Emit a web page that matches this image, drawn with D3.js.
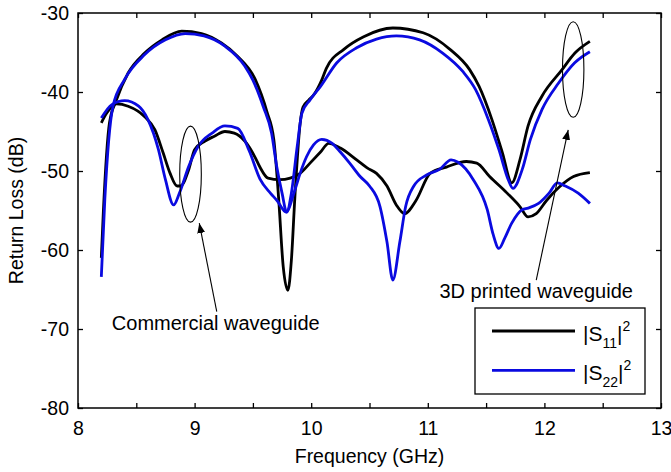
<!DOCTYPE html>
<html>
<head>
<meta charset="utf-8">
<script src="https://cdnjs.cloudflare.com/ajax/libs/d3/7.8.5/d3.min.js"></script>
<style>
  body { margin: 0; background: #fff; }
  svg { display: block; font-family: "Liberation Sans", Arial, sans-serif; }
</style>
</head>
<body>
<div id="chart"></div>
<script>
var w = 671, h = 472;
var margin = {top: 13, right: 10, bottom: 64, left: 78};

// 3D printed waveguide, |S11|^2 (black)
var printedS11Freq = [8.20, 8.217, 8.27, 8.33, 8.43, 8.57, 8.72, 8.89, 9.06, 9.23, 9.37, 9.52, 9.62, 9.68, 9.72, 9.76, 9.80, 9.83, 9.86, 9.905, 9.93, 9.98, 10.02, 10.09, 10.13, 10.28, 10.45, 10.70, 10.96, 11.19, 11.36, 11.44, 11.55, 11.64, 11.72, 11.79, 11.86, 11.98, 12.15, 12.26, 12.39];
var printedS11Loss = [-61.0, -55.3, -43.9, -41.0, -37.6, -35.1, -33.4, -32.3, -32.6, -33.8, -35.5, -38.4, -42.5, -46.1, -53.3, -62.1, -65.1, -61.3, -53.3, -44.0, -41.9, -41.0, -40.4, -38.5, -37.0, -34.6, -33.0, -31.9, -32.5, -34.6, -37.2, -39.3, -43.5, -47.7, -51.5, -48.6, -44.3, -40.5, -37.2, -35.1, -33.6];

// 3D printed waveguide, |S22|^2 (blue)
var printedS22Freq = [8.20, 8.23, 8.30, 8.40, 8.57, 8.75, 8.92, 9.08, 9.26, 9.43, 9.50, 9.59, 9.66, 9.705, 9.75, 9.79, 9.83, 9.88, 9.92, 9.99, 10.08, 10.22, 10.39, 10.56, 10.73, 10.93, 11.13, 11.30, 11.41, 11.52, 11.61, 11.69, 11.73, 11.81, 11.88, 11.98, 12.12, 12.26, 12.39];
var printedS22Loss = [-63.4, -53.6, -41.8, -38.4, -35.3, -33.4, -32.6, -32.9, -34.2, -36.7, -38.5, -41.9, -45.2, -49.5, -52.8, -55.2, -52.8, -46.9, -42.7, -41.0, -39.3, -36.3, -34.4, -33.3, -32.9, -33.4, -35.1, -37.4, -39.7, -43.5, -47.3, -51.1, -52.2, -49.8, -46.0, -42.2, -38.9, -36.3, -34.9];

// commercial waveguide, |S11|^2 (black)
var commS11Freq = [8.20, 8.245, 8.33, 8.43, 8.57, 8.66, 8.73, 8.79, 8.85, 8.88, 8.95, 9.00, 9.09, 9.17, 9.26, 9.34, 9.43, 9.52, 9.56, 9.63, 9.73, 9.82, 9.905, 9.99, 10.08, 10.15, 10.25, 10.39, 10.48, 10.56, 10.65, 10.73, 10.80, 10.90, 11.02, 11.16, 11.33, 11.42, 11.53, 11.68, 11.79, 11.86, 11.93, 12.02, 12.13, 12.25, 12.39];
var commS11Loss = [-43.9, -42.7, -41.5, -41.8, -43.1, -44.8, -47.7, -50.3, -51.9, -51.9, -49.8, -47.3, -46.2, -45.6, -45.0, -45.2, -46.2, -48.3, -49.5, -50.9, -51.1, -50.9, -50.3, -49.0, -47.6, -46.5, -47.1, -48.6, -49.6, -50.3, -51.9, -54.3, -55.4, -53.7, -50.3, -49.5, -48.8, -49.0, -50.7, -52.8, -54.5, -55.8, -55.4, -53.7, -52.0, -50.7, -50.2];

// commercial waveguide, |S22|^2 (blue)
var commS22Freq = [8.20, 8.29, 8.40, 8.52, 8.60, 8.69, 8.75, 8.82, 8.87, 8.95, 9.03, 9.15, 9.26, 9.37, 9.47, 9.56, 9.65, 9.705, 9.785, 9.86, 9.905, 9.96, 10.02, 10.09, 10.18, 10.25, 10.33, 10.42, 10.50, 10.59, 10.65, 10.70, 10.76, 10.81, 10.88, 10.99, 11.10, 11.20, 11.26, 11.39, 11.51, 11.56, 11.61, 11.66, 11.72, 11.81, 11.86, 11.95, 12.04, 12.11, 12.18, 12.29, 12.39];
var commS22Loss = [-43.3, -41.6, -41.1, -41.8, -43.5, -47.3, -51.1, -54.3, -52.8, -49.4, -46.9, -45.2, -44.3, -44.6, -47.5, -51.0, -52.8, -53.7, -55.2, -52.4, -50.3, -48.2, -46.7, -46.0, -46.5, -47.6, -49.0, -50.7, -51.9, -54.5, -59.0, -63.8, -59.0, -54.5, -51.9, -50.5, -49.8, -48.6, -48.9, -51.1, -54.9, -58.0, -59.8, -58.5, -56.6, -54.9, -54.7, -54.1, -52.8, -51.5, -51.9, -52.8, -54.1];

var xTicks = [8, 8.5, 9, 9.5, 10, 10.5, 11, 11.5, 12, 12.5, 13];
var xLabels = [8, 9, 10, 11, 12, 13];
var yTicks = [-80, -70, -60, -50, -40, -30];

var black = "#000", blue = "#0a0ae0";

function zip(fs, vs) {
  return fs.map(function(f, i) { return {f: f, v: vs[i]}; });
}

var series = [
  {data: zip(printedS11Freq, printedS11Loss), color: black},
  {data: zip(commS11Freq, commS11Loss), color: black},
  {data: zip(printedS22Freq, printedS22Loss), color: blue},
  {data: zip(commS22Freq, commS22Loss), color: blue}
];

var x = d3.scaleLinear().domain([8, 13]).range([margin.left, w - margin.right]);
var y = d3.scaleLinear().domain([-80, -30]).range([h - margin.bottom, margin.top]);

var svg = d3.select("#chart").append("svg")
  .attr("width", w)
  .attr("height", h);

svg.append("defs").append("marker")
  .attr("id", "head")
  .attr("viewBox", "0 0 10 8")
  .attr("refX", 10).attr("refY", 4)
  .attr("markerWidth", 10).attr("markerHeight", 8)
  .attr("markerUnits", "userSpaceOnUse")
  .attr("orient", "auto")
  .append("path").attr("d", "M0,0 L10,4 L0,8 Z").attr("fill", "#000");

var line = d3.line()
  .x(function(d) { return x(d.f); })
  .y(function(d) { return y(d.v); })
  .curve(d3.curveMonotoneX);

svg.selectAll(".curve")
  .data(series)
  .enter().append("path")
  .attr("class", "curve")
  .attr("d", function(d) { return line(d.data); })
  .attr("fill", "none")
  .attr("stroke", function(d) { return d.color; })
  .attr("stroke-width", 2.8)
  .attr("stroke-linejoin", "round");

// axes, ticks inward on all four sides
var tickLen = 5;
var bottomAxis = d3.axisBottom(x).tickValues(xTicks).tickSizeInner(-tickLen).tickSizeOuter(0)
  .tickFormat(function(d) { return xLabels.indexOf(d) >= 0 ? d : ""; });
var topAxis = d3.axisTop(x).tickValues(xTicks).tickSizeInner(-tickLen).tickSizeOuter(0).tickFormat("");
var leftAxis = d3.axisLeft(y).tickValues(yTicks).tickSizeInner(-tickLen).tickSizeOuter(0)
  .tickFormat(function(d) { return String(d); });
var rightAxis = d3.axisRight(y).tickValues(yTicks).tickSizeInner(-tickLen).tickSizeOuter(0).tickFormat("");

function styleAxis(g) {
  g.select(".domain").remove();
  g.selectAll("line").attr("stroke", "#000").attr("stroke-width", 1.3);
  g.selectAll("text").attr("fill", "#000").style("font-size", "19.5px")
    .style("font-family", "Liberation Sans, Arial, sans-serif");
}

svg.append("g").attr("transform", "translate(0," + y(-80) + ")").call(bottomAxis).call(styleAxis)
  .selectAll("text").attr("dy", "0.71em").attr("y", 13);
svg.append("g").attr("transform", "translate(0," + y(-30) + ")").call(topAxis).call(styleAxis);
svg.append("g").attr("transform", "translate(" + x(8) + ",0)").call(leftAxis).call(styleAxis)
  .selectAll("text").attr("x", -9);
svg.append("g").attr("transform", "translate(" + x(13) + ",0)").call(rightAxis).call(styleAxis);

svg.append("rect")
  .attr("x", x(8)).attr("y", y(-30))
  .attr("width", x(13) - x(8)).attr("height", y(-80) - y(-30))
  .attr("fill", "none").attr("stroke", "#000").attr("stroke-width", 1.5);

// axis titles
svg.append("text")
  .attr("x", (x(8) + x(13)) / 2).attr("y", 463)
  .attr("text-anchor", "middle").style("font-size", "19.5px")
  .text("Frequency (GHz)");
svg.append("text")
  .attr("transform", "translate(23," + y(-55) + ") rotate(-90)")
  .attr("text-anchor", "middle").style("font-size", "19.5px")
  .text("Return Loss (dB)");

// annotations
function ellipse(cf, cv, rx, ry) {
  svg.append("ellipse")
    .attr("cx", x(cf)).attr("cy", y(cv))
    .attr("rx", rx).attr("ry", ry)
    .attr("fill", "none").attr("stroke", "#000").attr("stroke-width", 1.1);
}
function arrow(f0, v0, f1, v1) {
  svg.append("line")
    .attr("x1", x(f0)).attr("y1", y(v0))
    .attr("x2", x(f1)).attr("y2", y(v1))
    .attr("stroke", "#000").attr("stroke-width", 1.1)
    .attr("marker-end", "url(#head)");
}
ellipse(8.965, -50.4, 10.8, 48);
arrow(9.19, -67.8, 9.04, -56.6);
svg.append("text").attr("x", x(8.29)).attr("y", y(-70.1))
  .style("font-size", "20px").text("Commercial waveguide");

ellipse(12.247, -37.15, 10.7, 47.8);
arrow(11.93, -63.8, 12.204, -44.8);
svg.append("text").attr("x", x(11.1)).attr("y", y(-66.1))
  .style("font-size", "20px").text("3D printed waveguide");

// legend
var legend = svg.append("g");
legend.append("rect")
  .attr("x", 475).attr("y", 308).attr("width", 170).attr("height", 86)
  .attr("fill", "#fff").attr("stroke", "#000").attr("stroke-width", 1.3);

var legendItems = [{sub: "11", color: black}, {sub: "22", color: blue}];
legendItems.forEach(function(d, i) {
  var ly = 331 + i * 39.3;
  legend.append("line")
    .attr("x1", 492).attr("x2", 575).attr("y1", ly).attr("y2", ly)
    .attr("stroke", d.color).attr("stroke-width", 2.8);
  var t = legend.append("text").attr("x", 583).attr("y", ly + 9.5).style("font-size", "21px");
  t.append("tspan").text("|S");
  t.append("tspan").attr("dy", 7).style("font-size", "14px").text(d.sub);
  t.append("tspan").attr("dy", -7).text("|");
  t.append("tspan").attr("dy", -10).style("font-size", "14px").text("2");
});
</script>
</body>
</html>
